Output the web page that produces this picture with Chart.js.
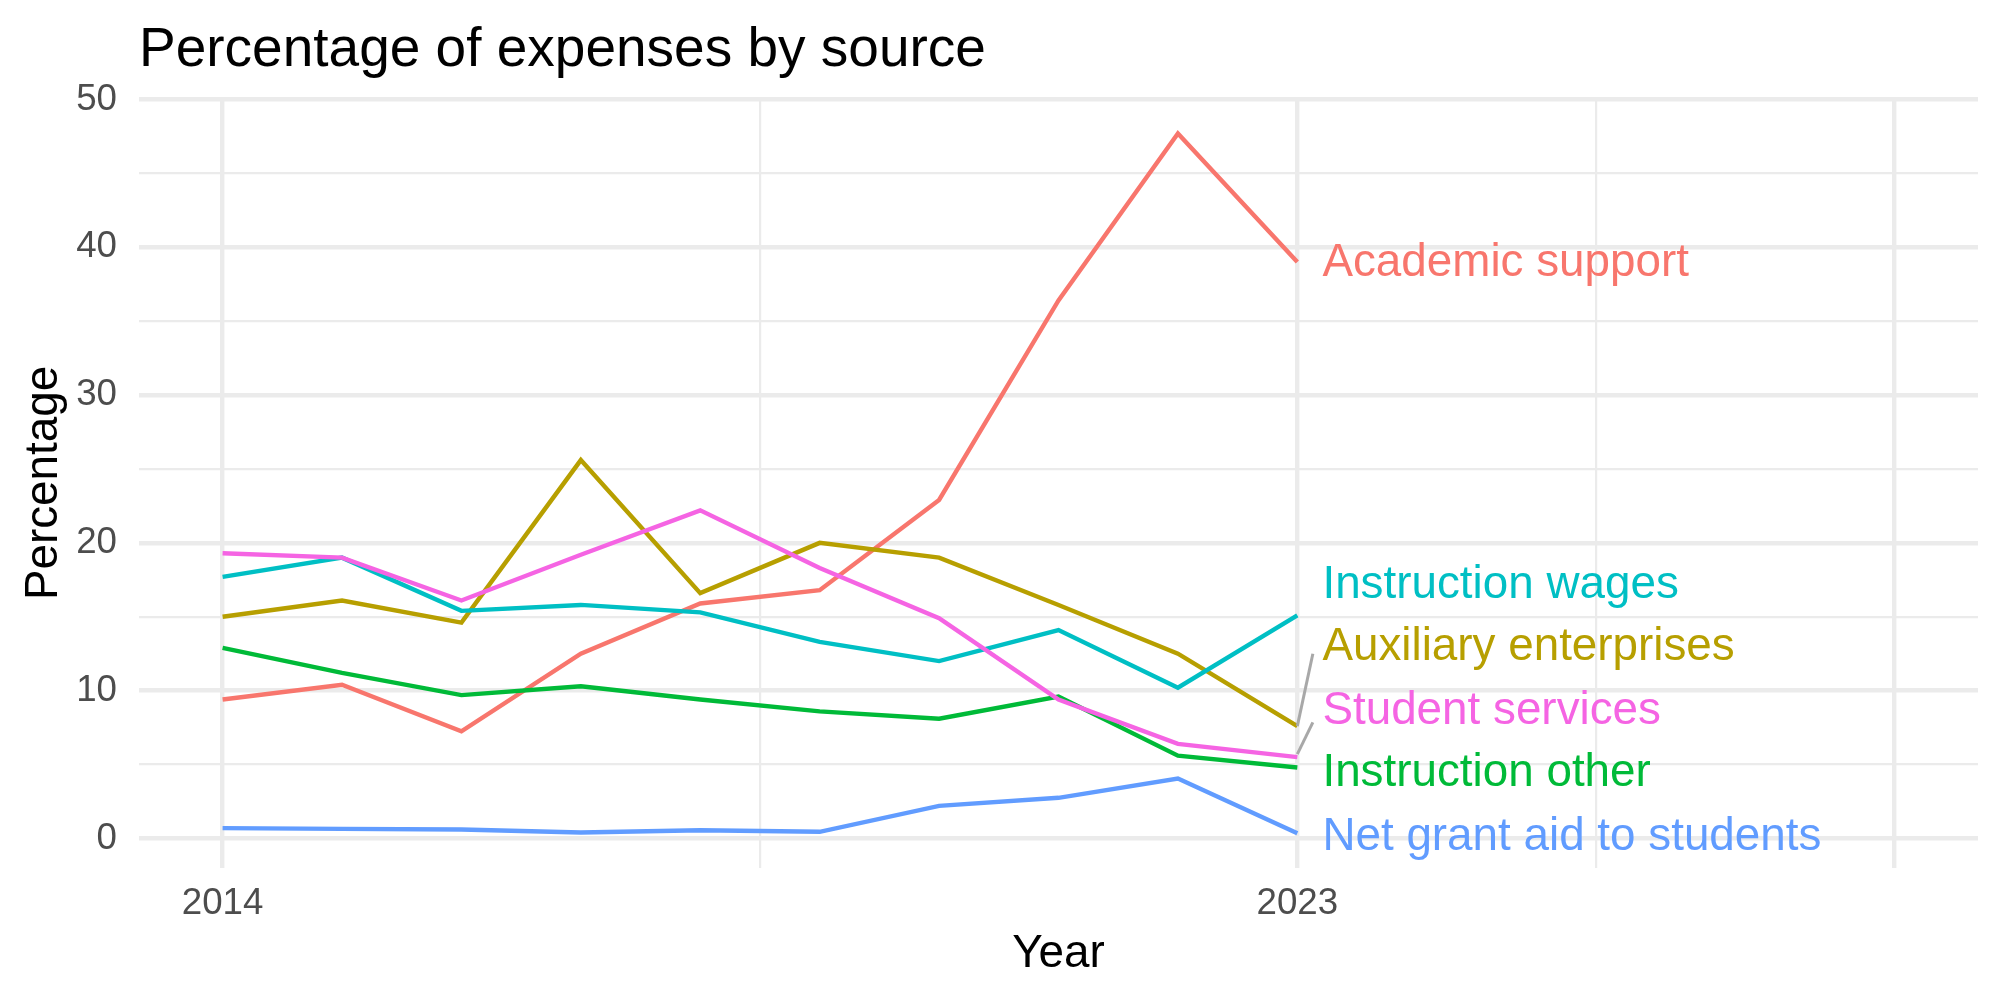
<!DOCTYPE html>
<html>
<head>
<meta charset="utf-8">
<script src="https://cdn.jsdelivr.net/npm/chart.js@4.4.1/dist/chart.umd.min.js"></script>
<style>
  body { margin: 0; background: #fff; }
  canvas { display: block; }
</style>
</head>
<body>
<canvas id="myChart" width="2000" height="1000" style="width:2000px;height:1000px"></canvas>
<script>
const years = [2014, 2015, 2016, 2017, 2018, 2019, 2020, 2021, 2022, 2023];

const academicSupport      = [9.4, 10.4, 7.25, 12.5, 15.9, 16.8, 22.9, 36.4, 47.7, 39.0];
const auxiliaryEnterprises = [15.0, 16.1, 14.6, 25.6, 16.6, 20.0, 19.0, 15.8, 12.5, 7.6];
const instructionOther     = [12.9, 11.2, 9.7, 10.3, 9.4, 8.6, 8.1, 9.6, 5.6, 4.8];
const instructionWages     = [17.7, 19.0, 15.4, 15.8, 15.3, 13.3, 12.0, 14.1, 10.2, 15.1];
const netGrantAid          = [0.7, 0.65, 0.6, 0.4, 0.55, 0.45, 2.2, 2.75, 4.05, 0.35];
const studentServices      = [19.3, 19.0, 16.1, 19.2, 22.2, 18.3, 14.9, 9.4, 6.4, 5.5];

const seriesNames = ['Academic support', 'Auxiliary enterprises', 'Instruction other',
                     'Instruction wages', 'Net grant aid to students', 'Student services'];
const seriesValues = [academicSupport, auxiliaryEnterprises, instructionOther,
                      instructionWages, netGrantAid, studentServices];
const seriesColors = ['#F8766D', '#B79F00', '#00BA38', '#00BFC4', '#619CFF', '#F564E3'];

// where the repelled end labels sit (data units)
const labelYear = 2023.21;
const labelValues = [38.9, 12.9, 4.4, 17.1, 0.1, 8.6];
// repel segments: [series index, from value, to year, to value]
const segments = [[1, 7.6, 2023.13, 12.5], [5, 5.7, 2023.13, 7.85]];

const xBreaks = [2014, 2018.5, 2023, 2025.5, 2028];
const xMajor = [2014, 2023, 2028];
const xLabelled = [2014, 2023];
const yBreaks = [0, 5, 10, 15, 20, 25, 30, 35, 40, 45, 50];

const FONT = '"Liberation Sans", Arial, Helvetica, sans-serif';

var annotate = {
  id: 'annotate',
  afterDatasetsDraw(chart) {
    const ctx = chart.ctx;
    const xs = chart.scales.x, ys = chart.scales.y;
    ctx.save();
    ctx.strokeStyle = '#A8A8A8';
    ctx.lineWidth = 3;
    segments.forEach(s => {
      ctx.beginPath();
      ctx.moveTo(xs.getPixelForValue(2023), ys.getPixelForValue(s[1]));
      ctx.lineTo(xs.getPixelForValue(s[2]), ys.getPixelForValue(s[3]));
      ctx.stroke();
    });
    ctx.font = '45.8px ' + FONT;
    ctx.textAlign = 'left';
    ctx.textBaseline = 'middle';
    seriesNames.forEach((name, i) => {
      ctx.fillStyle = seriesColors[i];
      ctx.fillText(name, xs.getPixelForValue(labelYear), ys.getPixelForValue(labelValues[i]));
    });
    ctx.restore();
  },
  afterDraw(chart) {
    const ctx = chart.ctx;
    const area = chart.chartArea;
    ctx.save();
    ctx.fillStyle = '#000';
    ctx.textBaseline = 'alphabetic';
    ctx.textAlign = 'left';
    ctx.font = '55px ' + FONT;
    ctx.fillText('Percentage of expenses by source', 139, 66);
    ctx.font = '45.8px ' + FONT;
    ctx.textAlign = 'center';
    ctx.fillText('Year', (area.left + area.right) / 2, 967);
    ctx.translate(57, (area.top + area.bottom) / 2);
    ctx.rotate(-Math.PI / 2);
    ctx.fillText('Percentage', 0, 0);
    ctx.restore();
  }
};

var ctx = document.getElementById('myChart').getContext('2d');
var chart = new Chart(ctx, {
  type: 'line',
  data: {
    datasets: seriesNames.map((name, i) => ({
      label: name,
      data: years.map((yr, j) => ({ x: yr, y: seriesValues[i][j] })),
      borderColor: seriesColors[i],
      backgroundColor: seriesColors[i],
      borderWidth: 4.4,
      pointRadius: 0,
      tension: 0,
      fill: false,
      order: seriesNames.length - 1 - i
    }))
  },
  options: {
    responsive: false,
    devicePixelRatio: 1,
    animation: false,
    layout: { padding: { top: 98, right: 22, left: 0, bottom: 0 } },
    plugins: { legend: { display: false }, tooltip: { enabled: false }, title: { display: false } },
    scales: {
      x: {
        type: 'linear',
        min: 2013.3,
        max: 2028.7,
        afterBuildTicks: scale => { scale.ticks = xBreaks.map(v => ({ value: v })); },
        afterFit: scale => { scale.height = 132; },
        ticks: {
          autoSkip: false,
          maxRotation: 0,
          padding: 14,
          color: '#4D4D4D',
          font: { family: FONT, size: 36.7 },
          callback: v => xLabelled.includes(v) ? String(v) : ''
        },
        grid: {
          color: '#EBEBEB',
          drawTicks: false,
          lineWidth: c => (c.tick && xMajor.includes(c.tick.value)) ? 4.4 : 2.2
        },
        border: { display: false }
      },
      y: {
        min: -2.0,
        max: 50.1,
        afterBuildTicks: scale => { scale.ticks = yBreaks.map(v => ({ value: v })); },
        afterFit: scale => { scale.width = 139; },
        ticks: {
          padding: 22,
          color: '#4D4D4D',
          font: { family: FONT, size: 36.7 },
          callback: v => v % 10 === 0 ? String(v) : ''
        },
        grid: {
          color: '#EBEBEB',
          drawTicks: false,
          lineWidth: c => (c.tick && c.tick.value % 10 === 0) ? 4.4 : 2.2
        },
        border: { display: false }
      }
    }
  },
  plugins: [annotate]
});
</script>
</body>
</html>
